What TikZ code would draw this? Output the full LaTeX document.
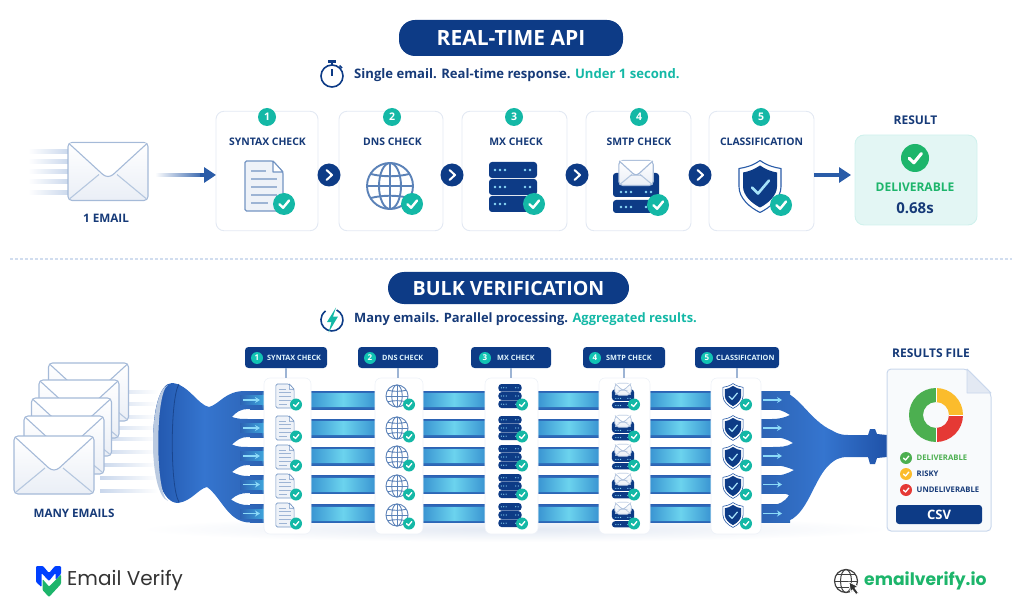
\documentclass[tikz,border=0pt]{standalone}
\usepackage{fontspec}
\usepackage{tikz}
\usetikzlibrary{arrows.meta,calc}
\setmainfont{Open Sans}
\newfontfamily\logofont{Poppins}

\definecolor{navy}{HTML}{0D3B86}
\definecolor{inknavy}{HTML}{163A78}
\definecolor{tealmark}{HTML}{14B8A6}
\definecolor{flowblue}{HTML}{2A5CA8}
\definecolor{pipeblue}{HTML}{2C63B4}
\definecolor{pipedark}{HTML}{1F52A8}
\definecolor{pipebright}{HTML}{3575CF}
\definecolor{pipecyan}{HTML}{3FA6DC}
\definecolor{palecard}{HTML}{E3E9F3}
\definecolor{paleline}{HTML}{C9D7EC}
\definecolor{iconblue}{HTML}{5B82B8}
\definecolor{okgreen}{HTML}{1DB56B}
\definecolor{donutgreen}{HTML}{4CAF50}
\definecolor{donutyellow}{HTML}{FBBC2C}
\definecolor{donutred}{HTML}{E53935}

\newcommand{\fsz}[1]{\fontsize{#1}{#1}\selectfont}
\newcommand{\tickat}[4]{%
	\fill[#4] (#1,#2) circle (#3);
	\draw[white,line width=#3*0.22pt,line cap=round,line join=round]
		($(#1,#2)+({-.42*#3},{.02*#3})$) -- ($(#1,#2)+({-.08*#3},{.34*#3})$) -- ($(#1,#2)+({.46*#3},{-.32*#3})$);
}
\newcommand{\envshape}{%
	\draw[iconline,draw=iconblue!55,top color=white,bottom color=palecard!75,rounded corners=4pt] (-40,-29) rectangle (40,29);
	\draw[iconline,draw=iconblue!45] (-38,27) -- (-9,3);
	\draw[iconline,draw=iconblue!45] (38,27) -- (9,3);
	\draw[iconline,draw=iconblue!55,fill=white,rounded corners=3pt] (-39,-28) -- (-3,5) -- (3,5) -- (39,-28);
}

\tikzset{
	iconline/.style={line width=1.1pt},
	globeline/.style={line width=1.9pt},
	markline/.style={line width=2.6pt},
	smallicon/.style={scale=.48,iconline/.style={line width=.6pt},globeline/.style={line width=.9pt},markline/.style={line width=1.2pt}},
	titlepill/.style={shape=rectangle,rounded corners=16pt,fill=navy,text=white},
	stepcard/.style={shape=rectangle,draw=palecard,fill=white,line width=.9pt,rounded corners=8pt,minimum height=119.5pt},
	stepnum/.style={shape=circle,fill=tealmark,text=white,font=\bfseries\fsz{10.5},minimum size=18pt,inner sep=0pt},
	steptitle/.style={text=inknavy,font=\bfseries\fsz{10.4},inner sep=0pt},
	nextmark/.style={shape=circle,fill=navy,minimum size=23pt,inner sep=0pt,
		path picture={\draw[white,line width=2pt,line cap=round,line join=round]
			($(path picture bounding box.center)+(-2.5pt,-5pt)$) -- ($(path picture bounding box.center)+(3pt,0pt)$) -- ($(path picture bounding box.center)+(-2.5pt,5pt)$);}},
	flowarrow/.style={-{Triangle[length=12pt,width=15pt]},draw=flowblue,line width=3.2pt},
	chipbox/.style={shape=rectangle,rounded corners=3.5pt,fill=navy,minimum height=21pt},
	chipnum/.style={shape=circle,fill=tealmark!85!cyan,text=white,font=\bfseries\fsz{8},minimum size=12pt,inner sep=0pt},
	chiptext/.style={text=white!88!cyan,font=\bfseries\fsz{7.3},inner sep=0pt,anchor=west},
	colcard/.style={shape=rectangle,draw=palecard!60,fill=white,line width=.6pt,rounded corners=6pt,minimum height=156pt},
	stemline/.style={draw=iconblue!60,line width=1.4pt},
	pipearrow/.style={-{Stealth[length=5pt,width=6pt]},draw=cyan!45!white,line width=1.2pt},
	legendtext/.style={font=\bfseries\fsz{7.7},inner sep=0pt,anchor=west},
	plaintitle/.style={text=inknavy,font=\bfseries\fsz{12},inner sep=0pt},
	pics/envelope/.style={code={\envshape}},
	pics/docicon/.style={code={
		\draw[iconline,draw=iconblue!85,fill=palecard!60,rounded corners=1.5pt] (-19,-25) -- (9,-25) -- (19,-14) -- (19,25) -- (-19,25) -- cycle;
		\draw[iconline,draw=iconblue!85,fill=white,line join=round] (9,-25) -- (9,-14) -- (19,-14) -- cycle;
		\draw[iconline,draw=iconblue!60] (-13,-15) -- (2,-15);
		\foreach \ln in {-7,1,9} {
			\draw[iconline,draw=iconblue!60] (-13,\ln) -- (13,\ln);
		}
		\draw[iconline,draw=iconblue!60] (-13,17) -- (4,17);
	}},
	pics/globeicon/.style={code={
		\draw[globeline,draw=iconblue] (0,0) circle (23);
		\draw[globeline,draw=iconblue] (0,0) ellipse (11 and 23);
		\draw[globeline,draw=iconblue] (0,-23) -- (0,23);
		\draw[globeline,draw=iconblue] (-23,0) -- (23,0);
		\draw[globeline,draw=iconblue] (-19,-12) .. controls (-8,-9) and (8,-9) .. (19,-12);
		\draw[globeline,draw=iconblue] (-19,12) .. controls (-8,9) and (8,9) .. (19,12);
	}},
	pics/servericon/.style={code={
		\foreach \rk in {-25,-8,9} {
			\fill[navy,rounded corners=3pt] (-24,\rk) rectangle (24,\rk+16);
			\foreach \dt in {-18,-13,-8,12,17} {
				\fill[cyan!45!white] (\dt,\rk+8) circle (1.3);
			}
		}
	}},
	pics/smtpicon/.style={code={
		\fill[navy,rounded corners=3pt] (-23,-14) rectangle (23,10);
		\fill[navy,rounded corners=3pt] (-23,13) rectangle (23,26);
		\foreach \dt in {-15,-10,-5,10,15} {
			\fill[cyan!45!white] (\dt,5) circle (1.3);
			\fill[cyan!45!white] (\dt,20) circle (1.3);
		}
		\begin{scope}[shift={(0,-14)},scale=.43]
			\envshape
		\end{scope}
	}},
	pics/shieldicon/.style={code={
		\draw[iconline,draw=flowblue,fill=white,line join=round] (0,-26) .. controls (-7,-21) and (-14,-19) .. (-21,-18) -- (-21,0) .. controls (-21,12) and (-10,21) .. (0,26) .. controls (10,21) and (21,12) .. (21,0) -- (21,-18) .. controls (14,-19) and (7,-21) .. (0,-26) -- cycle;
		\fill[navy,line join=round] (0,-21) .. controls (-6,-17) and (-11,-15) .. (-17,-14) -- (-17,0) .. controls (-17,9) and (-8,17) .. (0,21) .. controls (8,17) and (17,9) .. (17,0) -- (17,-14) .. controls (11,-15) and (6,-17) .. (0,-21) -- cycle;
		\draw[markline,draw=cyan!35!white,line cap=round,line join=round] (-8,1) -- (-2,7) -- (9,-6);
	}}
}

\begin{document}
\begin{tikzpicture}[x=1pt,y=-1pt]
	\useasboundingbox (0,0) rectangle (1024,609);

	\node[titlepill,font=\bfseries\fsz{21},minimum width=224pt,minimum height=36pt] (apititle) at (511,38) {REAL-TIME API};
	\draw[navy,line width=1.6pt] (332,76) circle (11);
	\fill[navy] (328,60.5) rectangle (336,63);
	\draw[navy,line width=1.6pt] (332,63) -- (332,65);
	\draw[navy,line width=1.6pt] (339.5,65.5) -- (342,68);
	\draw[navy,line width=1.2pt] (332,76) -- (332,69);
	\node[text=inknavy,font=\bfseries\fsz{13.1},inner sep=0pt,anchor=west] (apisub) at (354,75) {Single email. Real-time response. \textcolor{tealmark}{Under 1 second.}};

	\foreach \sy in {152,162,172,182,193} {
		\shade[left color=white,right color=paleline] (28,\sy-2) rectangle (70,\sy+2);
	}
	\pic at (108,171.5) {envelope};
	\node[steptitle,font=\bfseries\fsz{11.7}] (oneemail) at (106,218) {1 EMAIL};

	\node[stepcard,minimum width=102pt] (card1) at (267,171) {};
	\node[stepcard,minimum width=104pt] (card2) at (391,171) {};
	\node[stepcard,minimum width=105pt] (card3) at (514.5,171) {};
	\node[stepcard,minimum width=105pt] (card4) at (638.5,171) {};
	\node[stepcard,minimum width=105pt] (card5) at (761.5,171) {};

	\node[stepnum] (num1) at (267,117) {1};
	\node[stepnum] (num2) at (392,117) {2};
	\node[stepnum] (num3) at (514,117) {3};
	\node[stepnum] (num4) at (639,117) {4};
	\node[stepnum] (num5) at (761,117) {5};

	\node[steptitle] (title1) at (267.5,142) {SYNTAX CHECK};
	\node[steptitle] (title2) at (392.5,142) {DNS CHECK};
	\node[steptitle] (title3) at (516,142) {MX CHECK};
	\node[steptitle] (title4) at (639,142) {SMTP CHECK};
	\node[steptitle] (title5) at (761.5,142) {CLASSIFICATION};

	\pic at (264,186) {docicon};
	\pic at (390,186) {globeicon};
	\pic at (513,187) {servericon};
	\pic at (636,187) {smtpicon};
	\pic at (760,186.5) {shieldicon};
	\tickat{284}{204}{11}{tealmark}
	\tickat{412}{204}{11}{tealmark}
	\tickat{534}{204}{11}{tealmark}
	\tickat{658}{205}{11}{tealmark}
	\tickat{781}{205}{11}{tealmark}

	\node[nextmark] (next1) at (329,175) {};
	\node[nextmark] (next2) at (452,175) {};
	\node[nextmark] (next3) at (577,175) {};
	\node[nextmark] (next4) at (700,175) {};

	\shade[left color=white,right color=flowblue] (155,173.4) rectangle (206,176.6);
	\coordinate (flow1) at (200,175);
	\coordinate (flow2) at (216,175);
	\coordinate (flow5) at (814,175);
	\coordinate (flow6) at (851,175);
	\draw[flowarrow] (flow1) -- (flow2);
	\draw[flowarrow] (flow5) -- (flow6);

	\node[shape=rectangle,draw=tealmark!20,fill=tealmark!12,line width=.9pt,rounded corners=9pt,minimum width=122pt,minimum height=90pt] (resultbox) at (916,180) {};
	\node[plaintitle] (resultlabel) at (915.5,120) {RESULT};
	\tickat{915}{158}{14}{okgreen}
	\node[text=okgreen,font=\bfseries\fsz{12},inner sep=0pt] (resultstate) at (915,187.5) {DELIVERABLE};
	\node[text=inknavy,font=\bfseries\fsz{15},inner sep=0pt] (resulttime) at (915,208) {0.68s};

	\coordinate (sepleft) at (10,259);
	\coordinate (sepright) at (1012,259);
	\draw[draw=paleline!85,line width=1.2pt,dash pattern=on 3pt off 2pt] (sepleft) -- (sepright);

	\node[titlepill,font=\bfseries\fsz{19.6},minimum width=241pt,minimum height=32pt] (bulktitle) at (508.5,288) {BULK VERIFICATION};
	\draw[navy,line width=1.6pt] (336.6,310) arc (-65:235:11);
	\fill[tealmark] (336,307.5) -- (327,322) -- (331.5,322) -- (328.5,332.5) -- (338,316.5) -- (333,316.5) -- cycle;
	\node[text=inknavy,font=\bfseries\fsz{12.9},inner sep=0pt,anchor=west] (bulksub) at (354,319) {Many emails. Parallel processing. \textcolor{tealmark}{Aggregated results.}};

	\foreach \sy in {392,404,417,428,439,452,465,478,491} {
		\shade[left color=paleline,right color=white] (100,\sy-1.6) rectangle (158,\sy+1.6);
	}
	\pic at (88.5,392) {envelope};
	\pic at (79,409) {envelope};
	\pic at (71.5,427) {envelope};
	\pic at (64,445) {envelope};
	\pic at (54,465) {envelope};
	\node[plaintitle,font=\bfseries\fsz{11.6}] (manyemails) at (74,513) {MANY EMAILS};

	\shade[inner color=palecard,outer color=white] (515,529) ellipse (375 and 13);

	\foreach \ry in {400,428,456,484.5,513.5} {
		\shade[top color=pipeblue,bottom color=pipeblue,middle color=pipecyan] (250,\ry-9) rectangle (790,\ry+9);
		\foreach \sa/\sb in {311/375,423/485,538/599,650/711} {
			\shade[left color=pipecyan!75!pipeblue,right color=pipecyan!75!pipeblue,middle color=cyan!30!pipecyan!70!white] (\sa,\ry-6.5) rectangle (\sb,\ry+6.5);
		}
	}

	\shade[left color=pipedark,right color=pipeblue,middle color=pipebright] (172,383) .. controls (188,384) and (198,405) .. (209,407) .. controls (220,404) and (225,391) .. (245,391) -- (262,391)
		-- (262,409) -- (248,409) .. controls (241,409) and (236,412) .. (232,417) .. controls (238,419) and (242,419) .. (248,419) -- (262,419)
		-- (262,437) -- (248,437) .. controls (241,437) and (237,440) .. (232,444.5) .. controls (238,447) and (242,447) .. (248,447) -- (262,447)
		-- (262,465) -- (248,465) .. controls (241,465) and (237,468) .. (232,472) .. controls (238,475) and (242,476) .. (248,476) -- (262,476)
		-- (262,493) -- (248,493) .. controls (241,493) and (236,495) .. (231,499.5) .. controls (238,504) and (242,505) .. (248,505) -- (262,505)
		-- (262,522.5) -- (250,522.5) .. controls (228,522.5) and (222,498) .. (207,487) .. controls (198,489) and (192,501) .. (178,503)
		.. controls (146,503) and (146,383) .. (172,383) -- cycle;
	\fill[palecard!70!iconblue] (168,385) .. controls (148,392) and (148,494) .. (168,501) .. controls (155,494) and (155,392) .. (168,385) -- cycle;
	\draw[pipedark!85!black,line width=.8pt] (179,384) .. controls (170,398) and (170,488) .. (179,502);

	\shade[left color=pipeblue,right color=pipedark,middle color=pipebright] (760,391) -- (778,391) .. controls (798,391) and (808,420) .. (833,431) .. controls (838,434) and (842,435) .. (848,435) -- (868,435) -- (870,429) -- (875,429) -- (877,434) -- (887,435)
		-- (887,457) -- (877,458) -- (875,464) -- (870,464) -- (868,457) -- (848,457) .. controls (840,457) and (835,459) .. (828,466) .. controls (812,482) and (806,522.5) .. (780,522.5) -- (760,522.5)
		-- (760,505) -- (772,505) .. controls (778,505) and (785,502) .. (789,495) .. controls (785,493) and (778,493) .. (772,493) -- (760,493)
		-- (760,476) -- (772,476) .. controls (780,476) and (787,474) .. (794,470) .. controls (787,467) and (780,465) .. (772,465) -- (760,465)
		-- (760,447) -- (772,447) .. controls (780,447) and (787,447) .. (793,443) .. controls (787,439) and (780,437) .. (772,437) -- (760,437)
		-- (760,419) -- (772,419) .. controls (778,419) and (784,418) .. (790,415) .. controls (784,411) and (778,409) .. (772,409) -- (760,409) -- cycle;

	\foreach \ry [count=\rn] in {400,428,456,484.5,513.5} {
		\shade[left color=pipeblue,right color=pipecyan] (240,\ry-4.5) rectangle (264,\ry+4.5);
		\coordinate (intail\rn) at (243,\ry);
		\coordinate (inhead\rn) at (260,\ry);
		\coordinate (outtail\rn) at (763,\ry);
		\coordinate (outhead\rn) at (782,\ry);
		\draw[pipearrow] (intail\rn) -- (inhead\rn);
		\draw[pipearrow] (outtail\rn) -- (outhead\rn);
	}

	\node[colcard,minimum width=47pt] (col1) at (287.5,456) {};
	\node[colcard,minimum width=48pt] (col2) at (399,456) {};
	\node[colcard,minimum width=53pt] (col3) at (511.5,456) {};
	\node[colcard,minimum width=51pt] (col4) at (624.5,456) {};
	\node[colcard,minimum width=50pt] (col5) at (736,456) {};

	\node[chipbox,minimum width=82pt] (chip1) at (286,357.5) {};
	\node[chipbox,minimum width=80pt] (chip2) at (398,357.5) {};
	\node[chipbox,minimum width=80pt] (chip3) at (511,357.5) {};
	\node[chipbox,minimum width=82pt] (chip4) at (624,357.5) {};
	\node[chipbox,minimum width=84pt] (chip5) at (737,357.5) {};

	\draw[stemline] (chip1.south) -- (chip1.south |- col1.north);
	\draw[stemline] (chip2.south) -- (chip2.south |- col2.north);
	\draw[stemline] (chip3.south) -- (chip3.south |- col3.north);
	\draw[stemline] (chip4.south) -- (chip4.south |- col4.north);
	\draw[stemline] (chip5.south) -- (chip5.south |- col5.north);

	\node[chipnum] (chipnum1) at (257,358) {1};
	\node[chipnum] (chipnum2) at (370,358) {2};
	\node[chipnum] (chipnum3) at (485,358) {3};
	\node[chipnum] (chipnum4) at (595,358) {4};
	\node[chipnum] (chipnum5) at (707,358) {5};
	\node[chiptext] (chiptext1) at (267,358) {SYNTAX CHECK};
	\node[chiptext] (chiptext2) at (382,358) {DNS CHECK};
	\node[chiptext] (chiptext3) at (497,358) {MX CHECK};
	\node[chiptext] (chiptext4) at (606,358) {SMTP CHECK};
	\node[chiptext] (chiptext5) at (716,358) {CLASSIFICATION};

	\foreach \ry in {396,428,457,486,515} {
		\pic[smallicon] at (285,\ry) {docicon};
		\pic[smallicon] at (397,\ry) {globeicon};
		\pic[smallicon] at (510,\ry) {servericon};
		\pic[smallicon] at (623,\ry) {smtpicon};
		\pic[smallicon] at (733,\ry) {shieldicon};
		\tickat{296}{\ry+8.5}{6}{tealmark}
		\tickat{409}{\ry+8.5}{6}{tealmark}
		\tickat{522}{\ry+8.5}{6}{tealmark}
		\tickat{634}{\ry+8.5}{6}{tealmark}
		\tickat{746}{\ry+8.5}{6}{tealmark}
	}

	\node[plaintitle] (resultsfile) at (931,353) {RESULTS FILE};
	\draw[draw=paleline,fill=palecard!25,line width=1pt,rounded corners=4pt] (887,369) -- (967,369) -- (991,393) -- (991,531) -- (887,531) -- cycle;
	\draw[draw=paleline,fill=palecard,line width=.8pt,line join=round] (967,369) -- (967,393) -- (991,393) -- cycle;
	\fill[donutgreen] (936,442) arc (90:270:27) -- (936,402) arc (270:90:13) -- cycle;
	\fill[donutyellow] (936,388) arc (270:360:27) -- (949,415) arc (360:270:13) -- cycle;
	\fill[donutred] (963,415) arc (0:90:27) -- (936,428) arc (90:0:13) -- cycle;
	\draw[white,line width=.7pt] (936,388) -- (936,402);
	\draw[white,line width=.7pt] (936,428) -- (936,442);
	\draw[white,line width=.7pt] (949,415) -- (963,415);
	\tickat{906}{458}{6}{donutgreen}
	\tickat{906}{474}{6}{donutyellow}
	\tickat{906}{490}{6}{donutred}
	\node[legendtext,text=donutgreen] (legend1) at (916.5,458) {DELIVERABLE};
	\node[legendtext,text=inknavy] (legend2) at (916.5,474) {RISKY};
	\node[legendtext,text=inknavy] (legend3) at (916.5,490) {UNDELIVERABLE};
	\node[shape=rectangle,fill=navy,rounded corners=3pt,minimum width=86pt,minimum height=19pt,inner sep=0pt,text=white,font=\bfseries\fsz{13}] (csvbar) at (939,514.5) {CSV};

	\fill[blue!75!cyan,rounded corners=1pt] (36,566) -- (43,566) -- (49,573) -- (55,566) -- (61,566) -- (61,574) -- (55.5,580) -- (55.5,573) -- (49,581) -- (41.5,573) -- (41.5,587) -- (36,582) -- cycle;
	\fill[okgreen,rounded corners=1pt] (42.5,579) -- (49,586.5) -- (61,574.5) -- (61,584) -- (49,597) -- (42.5,590) -- cycle;
	\node[text=black!80,font=\logofont\fsz{20},inner sep=0pt,anchor=west] (logotext) at (67,580) {Email Verify};

	\draw[black!75,line width=1.2pt] (846,581) circle (11.5);
	\draw[black!75,line width=1pt] (846,581) ellipse (5.5 and 11.5);
	\draw[black!75,line width=1pt] (834.5,581) -- (857.5,581);
	\draw[black!75,line width=1pt] (836.5,574.5) -- (855.5,574.5);
	\draw[black!75,line width=1pt] (836.5,587.5) -- (849,587.5);
	\fill[black!80,draw=white,line width=.8pt] (849,582) -- (858,586.5) -- (855,588) -- (858.5,593) -- (856,594.5) -- (852.5,590) -- (850.5,592) -- cycle;
	\node[text=okgreen,font=\logofont\bfseries\fsz{17.2},inner sep=0pt,anchor=west] (weblabel) at (864,581) {emailverify.io};
\end{tikzpicture}
\end{document}
